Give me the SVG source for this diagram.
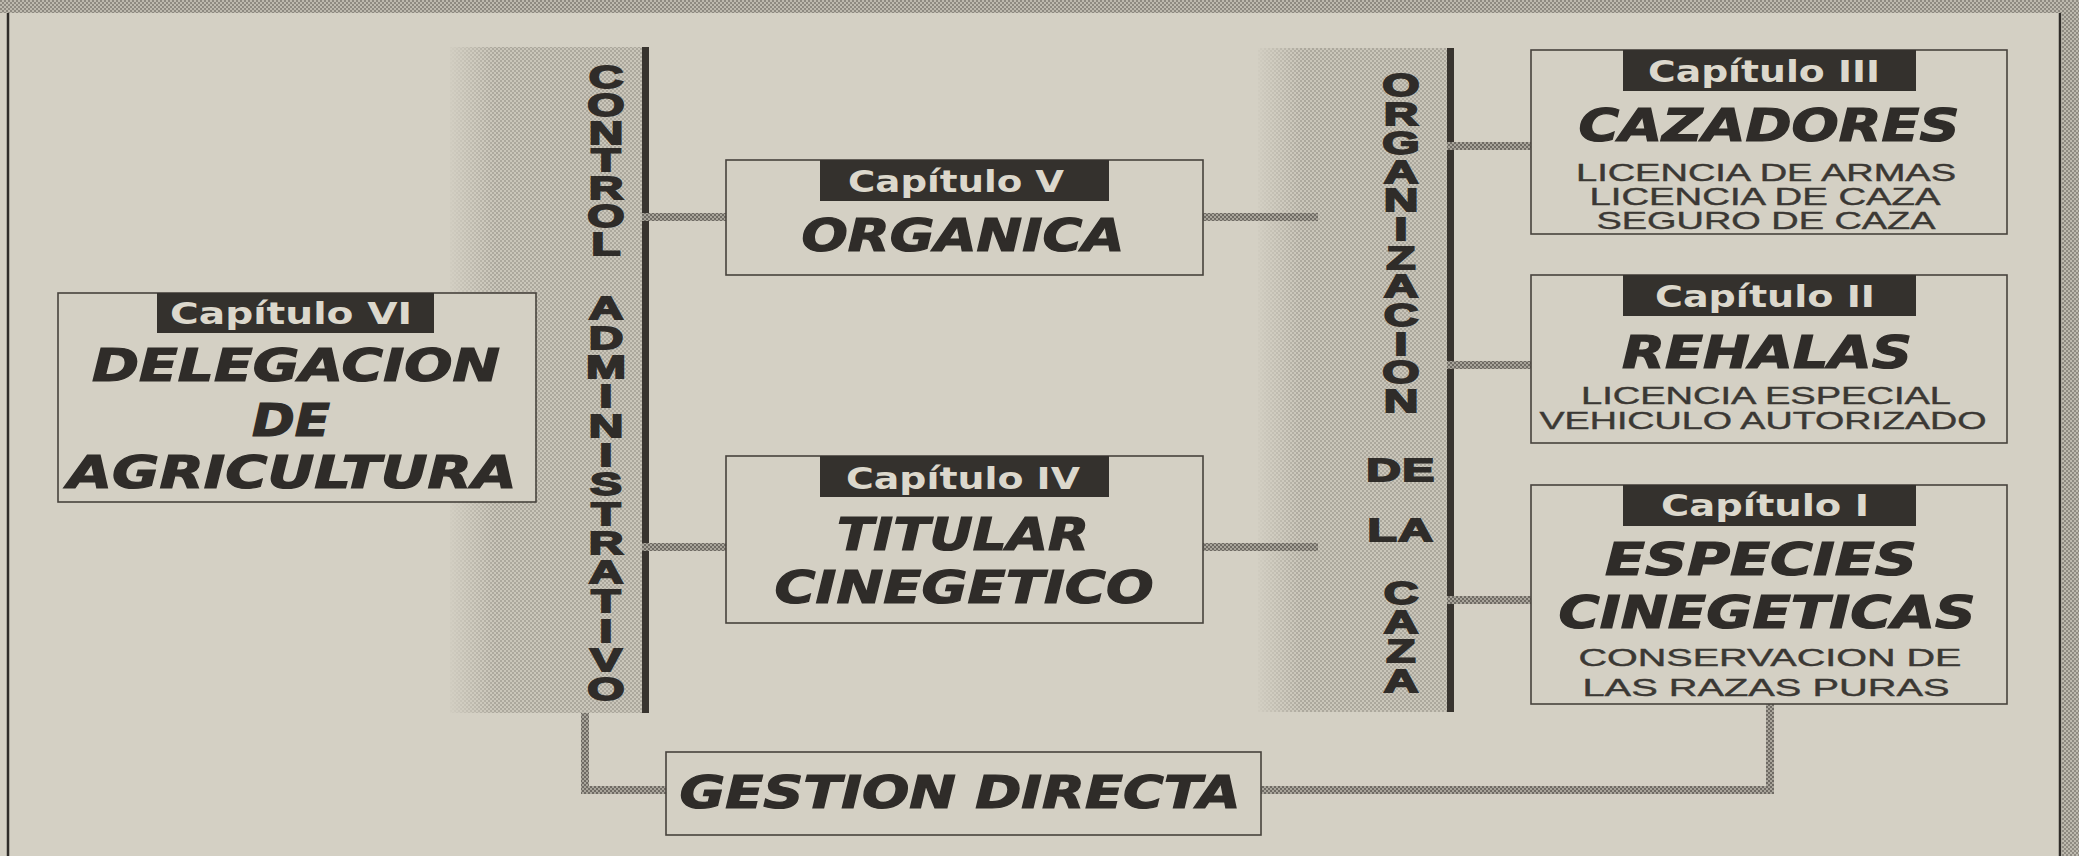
<svg xmlns="http://www.w3.org/2000/svg" width="2079" height="856" viewBox="0 0 2079 856">
<defs>
<style>
.box{fill:#d4d0c4;stroke:#47433d;stroke-width:1.6}
.lbl{fill:#34312d}
.lt{font-family:"DejaVu Sans","Liberation Sans",sans-serif;font-weight:bold;font-size:30px;fill:#dcd8cc;text-anchor:middle}
.ttl{font-family:"DejaVu Sans","Liberation Sans",sans-serif;font-weight:bold;font-style:italic;font-size:44px;fill:#2f2c29;stroke:#2f2c29;stroke-width:1.2;text-anchor:middle}
.sub{font-family:"Liberation Sans",Arial,sans-serif;font-size:24px;fill:#3b3834;stroke:#3b3834;stroke-width:0.4;text-anchor:middle}
.vl{font-family:"Liberation Sans",Arial,sans-serif;font-weight:bold;font-size:32px;fill:#2f2c29;stroke:#2f2c29;stroke-width:1.8;text-anchor:middle}
.bar{fill:#38342f}
.conn{fill:url(#htd)}
</style>
<pattern id="htd" width="4" height="4" patternUnits="userSpaceOnUse"><rect width="4" height="4" fill="#a9a59b"/><rect width="2" height="2" fill="#6f6b64"/><rect x="2" y="2" width="2" height="2" fill="#6f6b64"/></pattern>
<pattern id="htm" width="4" height="4" patternUnits="userSpaceOnUse"><rect width="4" height="4" fill="#bdb9ae"/><rect width="2" height="2" fill="#8e8a81"/><rect x="2" y="2" width="2" height="2" fill="#8e8a81"/></pattern>
<pattern id="htl" width="4" height="4" patternUnits="userSpaceOnUse"><rect width="4" height="4" fill="#cac6ba"/><rect width="2" height="2" fill="#aca89d"/><rect x="2" y="2" width="2" height="2" fill="#aca89d"/></pattern>
<linearGradient id="fade" x1="0" y1="0" x2="1" y2="0"><stop offset="0" stop-color="#d4d0c4" stop-opacity="0.9"/><stop offset="1" stop-color="#d4d0c4" stop-opacity="0"/></linearGradient>
</defs>
<rect width="2079" height="856" fill="#d4d0c4"/>
<g id="frame">
<rect x="0" y="0" width="2079" height="13" fill="url(#htm)"/>
<rect x="2062" y="0" width="17" height="856" fill="url(#htm)"/>
<line x1="8" y1="13" x2="8" y2="856" stroke="#2f2c29" stroke-width="2.5"/>
<line x1="2060" y1="13" x2="2060" y2="856" stroke="#2f2c29" stroke-width="2.5"/>
</g>
<g id="control-administrativo">
<rect x="450" y="47" width="192" height="666" fill="url(#htl)"/>
<rect x="450" y="47" width="45" height="666" fill="url(#fade)"/>
<rect class="bar" x="642" y="47" width="7" height="666"/>
<text class="vl" transform="translate(606 0) scale(1.5 1)"><tspan x="0" y="88.5">C</tspan><tspan x="0" y="116.5">O</tspan><tspan x="0" y="144.5">N</tspan><tspan x="0" y="171.5">T</tspan><tspan x="0" y="199.5">R</tspan><tspan x="0" y="227.5">O</tspan><tspan x="0" y="255.5">L</tspan><tspan x="0" y="319.5">A</tspan><tspan x="0" y="348.8">D</tspan><tspan x="0" y="378.1">M</tspan><tspan x="0" y="407.4">I</tspan><tspan x="0" y="436.7">N</tspan><tspan x="0" y="466">I</tspan><tspan x="0" y="495.3">S</tspan><tspan x="0" y="524.6">T</tspan><tspan x="0" y="553.9">R</tspan><tspan x="0" y="583.2">A</tspan><tspan x="0" y="612.5">T</tspan><tspan x="0" y="641.8">I</tspan><tspan x="0" y="671.1">V</tspan><tspan x="0" y="700.4">O</tspan></text>
</g>
<g id="organizacion-de-la-caza">
<rect x="1258" y="48" width="190" height="664" fill="url(#htl)"/>
<rect x="1258" y="48" width="45" height="664" fill="url(#fade)"/>
<rect class="bar" x="1447" y="48" width="7" height="664"/>
<text class="vl" transform="translate(1401 0) scale(1.5 1)"><tspan x="0" y="96.5">O</tspan><tspan x="0" y="125.2">R</tspan><tspan x="0" y="153.9">G</tspan><tspan x="0" y="182.6">A</tspan><tspan x="0" y="211.3">N</tspan><tspan x="0" y="240">I</tspan><tspan x="0" y="268.7">Z</tspan><tspan x="0" y="297.4">A</tspan><tspan x="0" y="326.1">C</tspan><tspan x="0" y="354.8">I</tspan><tspan x="0" y="383.5">O</tspan><tspan x="0" y="412.2">N</tspan><tspan x="0" y="481.5" letter-spacing="1">DE</tspan><tspan x="0" y="541.5" letter-spacing="1">LA</tspan><tspan x="0" y="604.5">C</tspan><tspan x="0" y="633.5">A</tspan><tspan x="0" y="662.5">Z</tspan><tspan x="0" y="692.5">A</tspan></text>
</g>
<g id="connectors">
<rect class="conn" x="642" y="213" width="84" height="8"/>
<rect class="conn" x="642" y="543" width="84" height="8"/>
<rect class="conn" x="1203" y="213" width="115" height="8"/>
<rect class="conn" x="1203" y="543" width="115" height="8"/>
<rect class="conn" x="1447" y="142" width="84" height="8"/>
<rect class="conn" x="1447" y="361" width="84" height="8"/>
<rect class="conn" x="1447" y="596" width="84" height="8"/>
<path class="conn" d="M581 713 H589 V786 H666 V794 H581 Z"/>
<path class="conn" d="M1261 786 H1766 V704 H1774 V794 H1261 Z"/>
</g>
<g id="cap6">
<rect class="box" x="58" y="293" width="478" height="209"/>
<rect class="lbl" x="157" y="293" width="277" height="40"/>
<text class="lt" x="291" y="324" textLength="242" lengthAdjust="spacingAndGlyphs">Capítulo VI</text>
<text class="ttl" x="296" y="381" font-size="48" textLength="408" lengthAdjust="spacingAndGlyphs">DELEGACION</text>
<text class="ttl" x="291" y="436" font-size="48" textLength="78" lengthAdjust="spacingAndGlyphs">DE</text>
<text class="ttl" x="292" y="488" font-size="48" textLength="449" lengthAdjust="spacingAndGlyphs">AGRICULTURA</text>
</g>
<g id="cap5">
<rect class="box" x="726" y="160" width="477" height="115"/>
<rect class="lbl" x="820" y="160" width="289" height="41"/>
<text class="lt" x="956" y="192" textLength="216" lengthAdjust="spacingAndGlyphs">Capítulo V</text>
<text class="ttl" x="963" y="251" textLength="323" lengthAdjust="spacingAndGlyphs">ORGANICA</text>
</g>
<g id="cap4">
<rect class="box" x="726" y="456" width="477" height="167"/>
<rect class="lbl" x="820" y="456" width="289" height="41"/>
<text class="lt" x="963" y="489" textLength="234" lengthAdjust="spacingAndGlyphs">Capítulo IV</text>
<text class="ttl" x="963" y="550" textLength="252" lengthAdjust="spacingAndGlyphs">TITULAR</text>
<text class="ttl" x="964" y="603" textLength="379" lengthAdjust="spacingAndGlyphs">CINEGETICO</text>
</g>
<g id="cap3">
<rect class="box" x="1531" y="50" width="476" height="184"/>
<rect class="lbl" x="1623" y="50" width="293" height="41"/>
<text class="lt" x="1764" y="82" textLength="232" lengthAdjust="spacingAndGlyphs">Capítulo III</text>
<text class="ttl" x="1769" y="141" textLength="381" lengthAdjust="spacingAndGlyphs">CAZADORES</text>
<text class="sub" x="1766" y="181" textLength="380" lengthAdjust="spacingAndGlyphs">LICENCIA DE ARMAS</text>
<text class="sub" x="1765" y="205" textLength="351" lengthAdjust="spacingAndGlyphs">LICENCIA DE CAZA</text>
<text class="sub" x="1766" y="229" textLength="339" lengthAdjust="spacingAndGlyphs">SEGURO DE CAZA</text>
</g>
<g id="cap2">
<rect class="box" x="1531" y="275" width="476" height="168"/>
<rect class="lbl" x="1623" y="275" width="293" height="41"/>
<text class="lt" x="1765" y="307" textLength="220" lengthAdjust="spacingAndGlyphs">Capítulo II</text>
<text class="ttl" x="1767" y="368" textLength="290" lengthAdjust="spacingAndGlyphs">REHALAS</text>
<text class="sub" x="1766" y="404" textLength="370" lengthAdjust="spacingAndGlyphs">LICENCIA ESPECIAL</text>
<text class="sub" x="1763" y="429" textLength="447" lengthAdjust="spacingAndGlyphs">VEHICULO AUTORIZADO</text>
</g>
<g id="cap1">
<rect class="box" x="1531" y="485" width="476" height="219"/>
<rect class="lbl" x="1623" y="485" width="293" height="41"/>
<text class="lt" x="1765" y="516" textLength="208" lengthAdjust="spacingAndGlyphs">Capítulo I</text>
<text class="ttl" x="1761" y="575" textLength="312" lengthAdjust="spacingAndGlyphs">ESPECIES</text>
<text class="ttl" x="1767" y="628" textLength="417" lengthAdjust="spacingAndGlyphs">CINEGETICAS</text>
<text class="sub" x="1770" y="666" font-size="28" textLength="383" lengthAdjust="spacingAndGlyphs">CONSERVACION DE</text>
<text class="sub" x="1766" y="696" font-size="28" textLength="367" lengthAdjust="spacingAndGlyphs">LAS RAZAS PURAS</text>
</g>
<g id="gestion">
<rect class="box" x="666" y="752" width="595" height="83"/>
<text class="ttl" x="960" y="808" textLength="561" lengthAdjust="spacingAndGlyphs">GESTION DIRECTA</text>
</g>
</svg>
